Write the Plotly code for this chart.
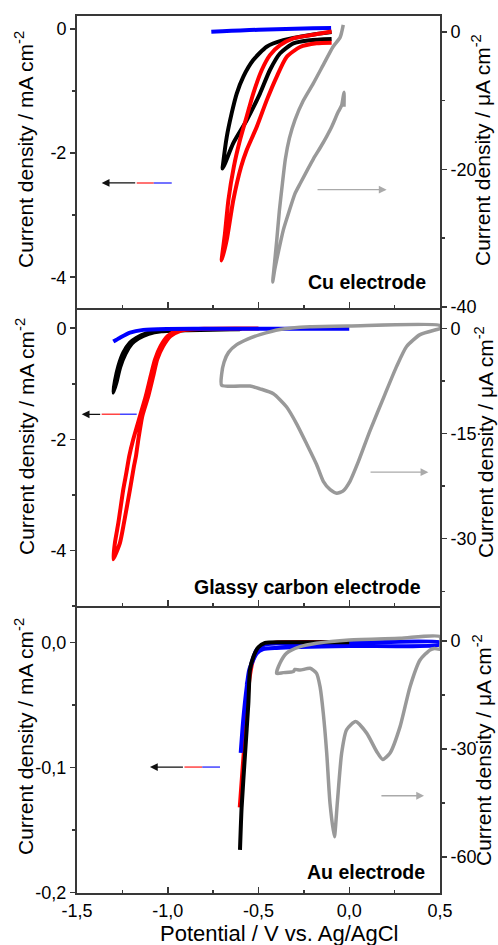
import plotly.graph_objects as go

# ---------------- data (potential V vs Ag/AgCl, current density) ----------------
# Cu electrode (left axis mA cm-2)
cu_blue_V = [-0.76, -0.70, -0.60, -0.50, -0.40, -0.30, -0.20, -0.10]
cu_blue_J = [-0.045, -0.035, -0.022, -0.012, -0.004, 0.004, 0.012, 0.018]
cu_black_V = [-0.097, -0.18, -0.271, -0.363, -0.455, -0.529, -0.584, -0.62, -0.648, -0.675, -0.697, -0.698,
              -0.685, -0.639, -0.565, -0.492, -0.437, -0.381, -0.308, -0.216, -0.097]
cu_black_J = [-0.05, -0.08, -0.125, -0.18, -0.285, -0.50, -0.77, -1.04, -1.36, -1.74, -2.22, -2.25,
              -2.17, -1.84, -1.47, -1.04, -0.66, -0.39, -0.23, -0.18, -0.16]
cu_red_V = [-0.097, -0.216, -0.308, -0.381, -0.437, -0.482, -0.529, -0.565, -0.602, -0.636, -0.666, -0.685, -0.703,
            -0.675, -0.639, -0.596, -0.565, -0.51, -0.455, -0.40, -0.345, -0.271, -0.18, -0.097]
cu_red_J = [-0.04, -0.10, -0.15, -0.26, -0.42, -0.66, -1.04, -1.41, -1.79, -2.22, -2.76, -3.30, -3.73,
            -3.40, -2.76, -2.22, -1.95, -1.58, -1.15, -0.77, -0.45, -0.29, -0.23, -0.22]
# Cu electrode (right axis uA cm-2)
cu_gray_V = [-0.033, -0.05, -0.09, -0.143, -0.198, -0.253, -0.299, -0.33, -0.352, -0.368, -0.385, -0.40, -0.413, -0.422,
             -0.41, -0.40, -0.363, -0.33, -0.30, -0.271, -0.198, -0.161, -0.124, -0.10, -0.06, -0.042, -0.029, -0.029]
cu_gray_J = [1.0, -0.8, -2.2, -4.8, -7.5, -10.0, -12.8, -15.5, -18.5, -22.0, -26.0, -30.5, -34.0, -36.4,
             -34.5, -33.2, -28.8, -26.0, -23.6, -22.1, -18.5, -16.9, -15.2, -14.0, -11.6, -10.7, -8.8, -10.9]

# Glassy carbon electrode (left axis mA cm-2)
gc_blue_V = [-1.30, -1.263, -1.208, -1.135, -1.006, -0.80, -0.50, 0.0]
gc_blue_J = [-0.24, -0.17, -0.08, -0.03, -0.012, -0.01, -0.01, -0.01]
gc_black_V = [-0.60, -0.914, -1.043, -1.116, -1.171, -1.208, -1.245, -1.272, -1.291, -1.30,
              -1.283, -1.262, -1.233, -1.198, -1.16, -1.105, -1.035, -0.90, -0.60]
gc_black_J = [-0.02, -0.03, -0.05, -0.09, -0.17, -0.26, -0.44, -0.68, -0.95, -1.16,
              -0.98, -0.70, -0.46, -0.28, -0.18, -0.10, -0.055, -0.035, -0.02]
gc_red_V = [-0.50, -0.80, -0.951, -1.0, -1.039, -1.07, -1.094, -1.121, -1.153, -1.19, -1.212, -1.228, -1.245, -1.272, -1.291, -1.30,
            -1.263, -1.241, -1.208, -1.186, -1.175, -1.162, -1.14, -1.107, -1.08, -1.058, -1.025, -0.984, -0.933, -0.85, -0.50]
gc_red_J = [-0.005, -0.01, -0.05, -0.14, -0.32, -0.56, -0.86, -1.22, -1.58, -2.0, -2.3, -2.6, -2.9, -3.5, -3.86, -4.16,
            -3.86, -3.5, -2.9, -2.48, -2.3, -2.0, -1.58, -1.22, -0.86, -0.56, -0.32, -0.14, -0.05, -0.015, -0.005]
# Glassy carbon electrode (right axis uA cm-2)
gc_gray_V = [-0.703, -0.703, -0.69, -0.665, -0.62, -0.56, -0.492, -0.382, -0.216, 0.0, 0.5,
             0.5, 0.482, 0.39, 0.316, 0.261, 0.195, 0.114, 0.05, 0.004, -0.035, -0.069, -0.105, -0.143, -0.18, -0.234,
             -0.29, -0.345, -0.418, -0.492, -0.547, -0.703]
gc_gray_J = [-8.1, -6.5, -4.8, -3.4, -2.3, -1.5, -0.87, -0.14, 0.24, 0.35, 0.43,
             0.0, -0.14, -0.87, -2.56, -5.4, -9.5, -14.6, -19.0, -21.8, -23.2, -23.5, -23.0, -21.8, -19.4, -16.5,
             -13.6, -11.2, -9.3, -8.6, -8.2, -8.1]

# Au electrode (left axis mA cm-2)
au_red_V = [-0.606, -0.59, -0.574, -0.558, -0.545, -0.525, -0.50, -0.46, -0.40, -0.05]
au_red_J = [-0.132, -0.10, -0.07, -0.045, -0.027, -0.013, -0.005, -0.0012, 0.0003, 0.0005]
au_blue_V = [-0.598, -0.584, -0.565, -0.551, -0.51, -0.474, -0.40, 0.0, 0.5,
             0.5, 0.0, -0.40, -0.47, -0.51, -0.545, -0.565]
au_blue_J = [-0.0885, -0.062, -0.036, -0.022, -0.009, -0.0055, -0.0045, -0.003, -0.002,
             0.0, -0.0005, -0.001, -0.002, -0.006, -0.02, -0.034]
au_black_V = [-0.602, -0.593, -0.574, -0.556, -0.547, -0.529, -0.501, -0.464, -0.363, 0.0]
au_black_J = [-0.166, -0.132, -0.089, -0.049, -0.022, -0.012, -0.004, -0.0005, 0.0, 0.0]
# Au electrode (right axis uA cm-2)
au_gray_V = [-0.40, -0.382, -0.345, -0.271, -0.18, 0.0, 0.28, 0.50,
             0.50, 0.47, 0.445, 0.39, 0.335, 0.28, 0.224, 0.184, 0.151, 0.096, 0.035, -0.015, -0.042, -0.066,
             -0.082, -0.106, -0.124, -0.143, -0.161, -0.18, -0.216, -0.271, -0.30, -0.308, -0.363, -0.40]
au_gray_J = [-9.0, -6.2, -3.4, -1.6, -0.65, 0.28, 0.74, 1.2,
             -2.3, -2.1, -2.5, -5.3, -12.7, -23.8, -31.2, -32.9, -30.7, -25.6, -22.4, -24.7, -31.2, -45.1,
             -54.4, -45.1, -31.2, -20.1, -12.7, -9.0, -7.6, -8.1, -7.9, -8.5, -8.8, -9.0]

# ticks
x_ticks = [-1.5, -1.0, -0.5, 0.0, 0.5]
x_ticklabels = ["-1,5", "-1,0", "-0,5", "0,0", "0,5"]
x_minor = [-1.25, -0.75, -0.25, 0.25]
cu_left_ticks = [0, -2, -4]; cu_left_labels = ["0", "-2", "-4"]; cu_left_minor = [-1, -3]
cu_right_ticks = [0, -20, -40]; cu_right_labels = ["0", "-20", "-40"]; cu_right_minor = [-10, -30]
gc_left_ticks = [0, -2, -4]; gc_left_labels = ["0", "-2", "-4"]; gc_left_minor = [-1, -3, -5]
gc_right_ticks = [0, -15, -30]; gc_right_labels = ["0", "-15", "-30"]; gc_right_minor = [-7.5, -22.5, -37.5]
au_left_ticks = [0.0, -0.1, -0.2]; au_left_labels = ["0,0", "-0,1", "-0,2"]; au_left_minor = [-0.05, -0.15]
au_right_ticks = [0, -30, -60]; au_right_labels = ["0", "-30", "-60"]; au_right_minor = [-15, -45]

# ---------------- figure ----------------
W, H = 498, 945
L, R, T, B = 77, 440, 16, 893
def px(x): return (x - L) / (R - L)
def py(y): return (B - y) / (B - T)

FONT = "Liberation Sans, Arial, sans-serif"
AX = "#383838"
fig = go.Figure()

def add(x, y, color, width, xa, ya):
    fig.add_trace(go.Scatter(x=x, y=y, mode="lines", xaxis=xa, yaxis=ya,
                             line=dict(color=color, width=width, shape="spline", smoothing=0.6),
                             showlegend=False, hoverinfo="skip"))

BLUE, RED, BLACK, GRAY = "#0000ff", "#ff0000", "#000000", "#999999"
add(cu_blue_V, cu_blue_J, BLUE, 4, "x", "y")
add(cu_black_V, cu_black_J, BLACK, 4, "x", "y")
add(cu_red_V, cu_red_J, RED, 4, "x", "y")
add(cu_gray_V, cu_gray_J, GRAY, 3.5, "x", "y2")

add(gc_black_V, gc_black_J, BLACK, 4, "x2", "y3")
add(gc_red_V, gc_red_J, RED, 4, "x2", "y3")
add(gc_blue_V, gc_blue_J, BLUE, 4, "x2", "y3")
add(gc_gray_V, gc_gray_J, GRAY, 3.5, "x2", "y4")

add(au_red_V, au_red_J, RED, 3, "x3", "y5")
add(au_blue_V, au_blue_J, BLUE, 4, "x3", "y5")
add(au_black_V, au_black_J, BLACK, 4, "x3", "y5")
add(au_gray_V, au_gray_J, GRAY, 3.5, "x3", "y6")

tickfont = dict(family=FONT, size=18, color="black")

def xax(anchor, labels, mirror):
    return dict(range=[-1.5, 0.5], domain=[0, 1], anchor=anchor, showline=True, linecolor=AX, linewidth=2,
                mirror=mirror, ticks="inside", ticklen=6, tickwidth=1.5, tickcolor=AX,
                tickvals=x_ticks, ticktext=x_ticklabels, showticklabels=labels, tickfont=tickfont,
                minor=dict(ticks="inside", ticklen=3, tickwidth=1.5, tickcolor=AX, tickvals=x_minor),
                showgrid=False, zeroline=False)

def yax(rng, tv, tt, mv, side, anchor, domain=None, overlaying=None):
    d = dict(range=rng, anchor=anchor, side=side, showline=True, linecolor=AX, linewidth=2,
             ticks="outside", ticklen=5, tickwidth=1.5, tickcolor=AX, tickvals=tv, ticktext=tt,
             tickfont=tickfont, minor=dict(ticks="outside", ticklen=3, tickwidth=1.5, tickcolor=AX, tickvals=mv),
             showgrid=False, zeroline=False)
    if domain is not None:
        d["domain"] = domain
    if overlaying is not None:
        d["overlaying"] = overlaying
    return d

d1 = [0.6668, 1.0]
d2 = [py(606), 0.6668]
d3 = [0.0, py(606)]

fig.update_layout(
    width=W, height=H, margin=dict(l=L, r=W - R, t=T, b=H - B),
    paper_bgcolor="white", plot_bgcolor="white",
    font=dict(family=FONT, color="black"),
    xaxis=xax("y", False, True), xaxis2=xax("y3", False, False), xaxis3=xax("y5", True, False),
    yaxis=yax([-4.5, 0.21], cu_left_ticks, cu_left_labels, cu_left_minor, "left", "x", domain=d1),
    yaxis2=yax([-40.2, 2.3], cu_right_ticks, cu_right_labels, cu_right_minor, "right", "x", overlaying="y"),
    yaxis3=yax([-5.0, 0.36], gc_left_ticks, gc_left_labels, gc_left_minor, "left", "x2", domain=d2),
    yaxis4=yax([-39.6, 2.9], gc_right_ticks, gc_right_labels, gc_right_minor, "right", "x2", overlaying="y3"),
    yaxis5=yax([-0.2005, 0.029], au_left_ticks, au_left_labels, au_left_minor, "left", "x3", domain=d3),
    yaxis6=yax([-70, 9.7], au_right_ticks, au_right_labels, au_right_minor, "right", "x3", overlaying="y5"),
)

ann = []
shapes = []
# y-axis titles
left_title = "Current density / mA cm<sup>-2</sup>"
right_title = "Current density / \u03bcA cm<sup>-2</sup>"
for (xx, yy, txt) in [(24, 150, left_title), (25, 437, left_title), (24, 737, left_title),
                      (481, 150, right_title), (484, 442, right_title), (482, 750, right_title)]:
    ann.append(dict(text=txt, xref="paper", yref="paper", x=px(xx), y=py(yy), showarrow=False,
                    textangle=-90, xanchor="center", yanchor="middle", font=dict(family=FONT, size=21)))
# x-axis title
ann.append(dict(text="Potential / V vs. Ag/AgCl", xref="paper", yref="paper", x=px(279), y=py(934),
                showarrow=False, xanchor="center", yanchor="middle", font=dict(family=FONT, size=22)))
# electrode labels
for (xx, yy, txt) in [(428, 282, "Cu electrode"), (423, 587, "Glassy carbon electrode"), (427, 872, "Au electrode")]:
    ann.append(dict(text="<b>" + txt + "</b>", xref="paper", yref="paper", x=px(xx), y=py(yy), showarrow=False,
                    xanchor="right", yanchor="middle", font=dict(family=FONT, size=19.5)))

# multicolour arrows (left axes) and grey arrows (right axes)
for (xa, ya, pts, yv) in [("x", "y", [-1.364, -1.171, -1.077, -0.978], -2.48),
                          ("x2", "y3", [-1.474, -1.364, -1.263, -1.171], -1.55),
                          ("x3", "y5", [-1.098, -0.908, -0.81, -0.712], -0.0998)]:
    ann.append(dict(text="", x=pts[0], y=yv, ax=pts[1], ay=yv, xref=xa, yref=ya, axref=xa, ayref=ya,
                    showarrow=True, arrowhead=2, arrowsize=1.2, arrowwidth=1.3, arrowcolor="#111111"))
    shapes.append(dict(type="line", xref=xa, yref=ya, x0=pts[1], x1=pts[2], y0=yv, y1=yv,
                       line=dict(color="#ff4444", width=1.5)))
    shapes.append(dict(type="line", xref=xa, yref=ya, x0=pts[2], x1=pts[3], y0=yv, y1=yv,
                       line=dict(color="#4444ff", width=1.5)))
for (xa, ya, x0, x1, yv) in [("x", "y2", -0.183, 0.206, -22.96), ("x2", "y4", 0.109, 0.436, -20.5),
                             ("x3", "y6", 0.169, 0.412, -43.0)]:
    ann.append(dict(text="", x=x1, y=yv, ax=x0, ay=yv, xref=xa, yref=ya, axref=xa, ayref=ya,
                    showarrow=True, arrowhead=2, arrowsize=1.2, arrowwidth=1.3, arrowcolor="#aaaaaa"))

fig.update_layout(annotations=ann, shapes=shapes)
fig.write_html("out.html", config={"displayModeBar": False, "staticPlot": True},
               post_script="document.body.style.margin='0';document.body.style.overflow='hidden';")
